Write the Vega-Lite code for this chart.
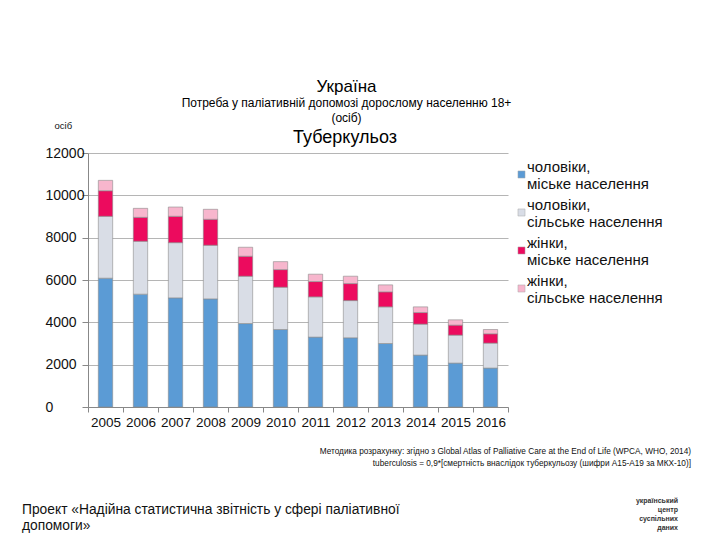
{
  "$schema": "https://vega.github.io/schema/vega-lite/v6.json",
  "padding": {"left": 22, "top": 78, "right": 5, "bottom": 5},
  "background": "white",
  "config": {"font": "Liberation Sans", "view": {"stroke": null}},
  "title": {
    "text": "Україна",
    "subtitle": ["Потреба у паліативній допомозі дорослому населенню 18+", "(осіб)"],
    "fontSize": 17, "fontWeight": "normal", "color": "#000",
    "subtitleFontSize": 12, "subtitleColor": "#000", "subtitlePadding": 2, "subtitleLineHeight": 15,
    "anchor": "middle", "offset": -5, "dx": -10
  },
  "bounds": "flush",
  "spacing": 40,
  "resolve": {"legend": {"color": "independent"}, "scale": {"color": "independent"}},
  "vconcat": [
    {
      "width": 420,
      "height": 254,
      "title": {"text": "Туберкульоз", "fontSize": 18, "fontWeight": "normal", "color": "#000", "anchor": "middle", "frame": "group", "dx": 47, "dy": 31, "offset": 4},
      "data": {"values": [
        {"year": "2005", "group": "чоловіки,|міське населення", "k": 1, "value": 6085},
        {"year": "2005", "group": "чоловіки,|сільське населення", "k": 2, "value": 2925},
        {"year": "2005", "group": "жінки,|міське населення", "k": 3, "value": 1207},
        {"year": "2005", "group": "жінки,|сільське населення", "k": 4, "value": 490},
        {"year": "2006", "group": "чоловіки,|міське населення", "k": 1, "value": 5330},
        {"year": "2006", "group": "чоловіки,|сільське населення", "k": 2, "value": 2500},
        {"year": "2006", "group": "жінки,|міське населення", "k": 3, "value": 1130},
        {"year": "2006", "group": "жінки,|сільське населення", "k": 4, "value": 425},
        {"year": "2007", "group": "чоловіки,|міське населення", "k": 1, "value": 5156},
        {"year": "2007", "group": "чоловіки,|сільське населення", "k": 2, "value": 2608},
        {"year": "2007", "group": "жінки,|міське населення", "k": 3, "value": 1246},
        {"year": "2007", "group": "жінки,|сільське населення", "k": 4, "value": 438},
        {"year": "2008", "group": "чоловіки,|міське населення", "k": 1, "value": 5108},
        {"year": "2008", "group": "чоловіки,|сільське населення", "k": 2, "value": 2534},
        {"year": "2008", "group": "жінки,|міське населення", "k": 3, "value": 1226},
        {"year": "2008", "group": "жінки,|сільське населення", "k": 4, "value": 472},
        {"year": "2009", "group": "чоловіки,|міське населення", "k": 1, "value": 3943},
        {"year": "2009", "group": "чоловіки,|сільське населення", "k": 2, "value": 2236},
        {"year": "2009", "group": "жінки,|міське населення", "k": 3, "value": 944},
        {"year": "2009", "group": "жінки,|сільське населення", "k": 4, "value": 424},
        {"year": "2010", "group": "чоловіки,|міське населення", "k": 1, "value": 3660},
        {"year": "2010", "group": "чоловіки,|сільське населення", "k": 2, "value": 2000},
        {"year": "2010", "group": "жінки,|міське населення", "k": 3, "value": 831},
        {"year": "2010", "group": "жінки,|сільське населення", "k": 4, "value": 377},
        {"year": "2011", "group": "чоловіки,|міське населення", "k": 1, "value": 3302},
        {"year": "2011", "group": "чоловіки,|сільське населення", "k": 2, "value": 1901},
        {"year": "2011", "group": "жінки,|міське населення", "k": 3, "value": 722},
        {"year": "2011", "group": "жінки,|сільське населення", "k": 4, "value": 349},
        {"year": "2012", "group": "чоловіки,|міське населення", "k": 1, "value": 3269},
        {"year": "2012", "group": "чоловіки,|сільське населення", "k": 2, "value": 1759},
        {"year": "2012", "group": "жінки,|міське населення", "k": 3, "value": 802},
        {"year": "2012", "group": "жінки,|сільське населення", "k": 4, "value": 349},
        {"year": "2013", "group": "чоловіки,|міське населення", "k": 1, "value": 3000},
        {"year": "2013", "group": "чоловіки,|сільське населення", "k": 2, "value": 1731},
        {"year": "2013", "group": "жінки,|міське населення", "k": 3, "value": 708},
        {"year": "2013", "group": "жінки,|сільське населення", "k": 4, "value": 330},
        {"year": "2014", "group": "чоловіки,|міське населення", "k": 1, "value": 2453},
        {"year": "2014", "group": "чоловіки,|сільське населення", "k": 2, "value": 1462},
        {"year": "2014", "group": "жінки,|міське населення", "k": 3, "value": 547},
        {"year": "2014", "group": "жінки,|сільське населення", "k": 4, "value": 269},
        {"year": "2015", "group": "чоловіки,|міське населення", "k": 1, "value": 2075},
        {"year": "2015", "group": "чоловіки,|сільське населення", "k": 2, "value": 1321},
        {"year": "2015", "group": "жінки,|міське населення", "k": 3, "value": 472},
        {"year": "2015", "group": "жінки,|сільське населення", "k": 4, "value": 250},
        {"year": "2016", "group": "чоловіки,|міське населення", "k": 1, "value": 1840},
        {"year": "2016", "group": "чоловіки,|сільське населення", "k": 2, "value": 1179},
        {"year": "2016", "group": "жінки,|міське населення", "k": 3, "value": 439},
        {"year": "2016", "group": "жінки,|сільське населення", "k": 4, "value": 202}
      ]},
      "mark": {"type": "bar", "stroke": "#8c8c8c", "strokeWidth": 0.6, "width": {"band": 0.41}},
      "encoding": {
        "x": {
          "field": "year", "type": "ordinal",
          "scale": {"paddingInner": 0, "paddingOuter": 0},
          "axis": {
            "labelAngle": 0, "labelFontSize": 13.5, "labelColor": "#111", "labelPadding": 3,
            "domainColor": "#888", "tickColor": "#888", "tickSize": 5, "tickBand": "extent", "grid": false,
            "title": null
          }
        },
        "y": {
          "field": "value", "type": "quantitative", "stack": "zero",
          "scale": {"domain": [0, 12000]},
          "axis": {
            "values": [0, 2000, 4000, 6000, 8000, 10000, 12000], "format": "d",
            "labelFontSize": 14, "labelColor": "#111", "labelAlign": "left", "labelPadding": 37,
            "domainColor": "#888", "tickColor": "#888", "tickSize": 6, "gridColor": "#b5b5b5",
            "title": "осіб", "titleAngle": 0, "titleAlign": "left", "titleX": -34, "titleY": -28,
            "titleBaseline": "middle", "titleFontSize": 9.5, "titleFontWeight": "normal", "titleColor": "#111"
          }
        },
        "color": {
          "field": "group", "type": "nominal",
          "scale": {
            "domain": ["чоловіки,|міське населення", "чоловіки,|сільське населення", "жінки,|міське населення", "жінки,|сільське населення"],
            "range": ["#5b9bd5", "#d9dde6", "#ec0b5e", "#f7b6cd"]
          },
          "legend": {
            "title": null, "orient": "right", "offset": -8, "padding": 14,
            "symbolType": "square", "symbolSize": 50, "symbolStrokeColor": "#aaa", "symbolStrokeWidth": 0.5,
            "labelExpr": "split(datum.label, '|')", "labelFontSize": 15, "labelColor": "#111",
            "labelBaseline": "bottom",
            "labelLimit": 300, "labelOffset": -2, "rowPadding": 5
          }
        },
        "order": {"field": "k", "type": "quantitative"}
      }
    },
    {
      "width": 603,
      "height": 16,
      "data": {"values": [{"t": "Методика розрахунку: згідно з Global Atlas of Palliative Care at the End of Life (WPCA, WHO, 2014)\ntuberculosis = 0,9*[смертність внаслідок туберкульозу (шифри A15-A19 за МКХ-10)]"}]},
      "mark": {"type": "text", "align": "right", "baseline": "top", "fontSize": 8.25, "lineBreak": "\n", "lineHeight": 12, "color": "#111"},
      "encoding": {"text": {"field": "t"}, "x": {"value": "width"}, "y": {"value": 0}}
    },
    {
      "width": 590,
      "height": 32,
      "data": {"values": [{"t": "Проект «Надійна статистична звітність у сфері паліативної\nдопомоги»", "logo": "український\nцентр\nсуспільних\nданих"}]},
      "layer": [
        {"mark": {"type": "text", "align": "left", "baseline": "top", "fontSize": 13.8, "lineBreak": "\n", "lineHeight": 16, "dx": -66, "color": "#111"},
         "encoding": {"text": {"field": "t"}, "x": {"value": 0}, "y": {"value": 0}}},
        {"mark": {"type": "text", "align": "right", "baseline": "top", "fontSize": 7, "fontWeight": "bold", "lineBreak": "\n", "lineHeight": 9, "color": "#333"},
         "encoding": {"text": {"field": "logo"}, "x": {"value": "width"}, "y": {"value": -6}}}
      ]
    }
  ]
}
